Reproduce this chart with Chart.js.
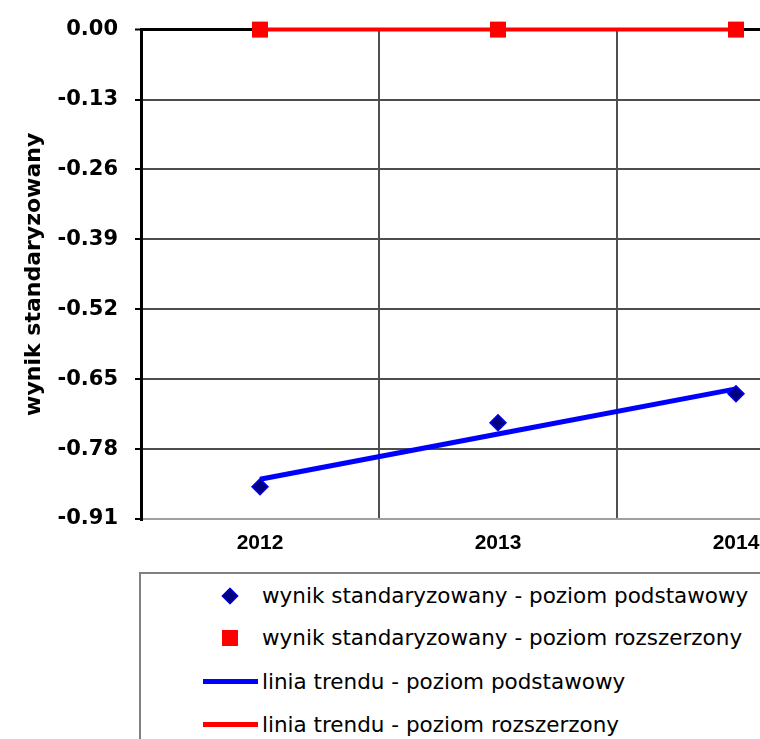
<!DOCTYPE html>
<html>
<head>
<meta charset="utf-8">
<script src="https://cdn.jsdelivr.net/npm/chart.js@4.4.1/dist/chart.umd.min.js"></script>
<style>
  html, body { margin: 0; padding: 0; background: #fff; overflow: hidden; width: 760px; height: 739px; }
  #wykres { position: absolute; left: 0; top: 0; }
  #legenda { position: absolute; left: 139px; top: 572px; width: 700px; height: 200px; border: 2px solid #808080; box-sizing: border-box; font-family: 'DejaVu Sans'; font-size: 21.5px; color: #000; }
  #legenda span { position: absolute; left: 121px; line-height: 26px; white-space: nowrap; }
  .romb { position: absolute; left: 83px; top: 16px; width: 10px; height: 10px; background: #000080; border: 1px solid #0000ff; transform: rotate(45deg); }
  .kwadrat { position: absolute; left: 81px; top: 56px; width: 16px; height: 16px; background: #ff0000; }
  .linia { position: absolute; left: 62px; width: 55px; height: 5px; }
</style>
</head>
<body>
<canvas id="wykres" width="870" height="560"></canvas>
<div id="legenda">
  <div class="romb"></div>
  <span style="top: 9px">wynik standaryzowany - poziom podstawowy</span>
  <div class="kwadrat"></div>
  <span style="top: 51px">wynik standaryzowany - poziom rozszerzony</span>
  <div class="linia" style="top: 105px; background: #0000ff"></div>
  <span style="top: 95px">linia trendu - poziom podstawowy</span>
  <div class="linia" style="top: 148px; background: #ff0000"></div>
  <span style="top: 138px">linia trendu - poziom rozszerzony</span>
</div>
<script>
const lata = ['2012', '2013', '2014'];
const wynikPodstawowy = [-0.850, -0.731, -0.677];
const wynikRozszerzony = [0, 0, 0];
const trendPodstawowy = [-0.836, -0.752, -0.668];
const trendRozszerzony = [0, 0, 0];
const podzialkaY = [0, -0.13, -0.26, -0.39, -0.52, -0.65, -0.78, -0.91];

const ctx = document.getElementById('wykres').getContext('2d');

new Chart(ctx, {
  type: 'line',
  data: {
    labels: lata,
    datasets: [
      {
        label: 'wynik standaryzowany - poziom podstawowy',
        data: wynikPodstawowy,
        showLine: false,
        pointStyle: 'rectRot',
        pointRadius: 8,
        pointBackgroundColor: '#000080',
        pointBorderColor: '#0000ff',
        pointBorderWidth: 1.5,
        clip: false,
        order: 1
      },
      {
        label: 'wynik standaryzowany - poziom rozszerzony',
        data: wynikRozszerzony,
        showLine: false,
        pointStyle: 'rect',
        pointRadius: 11.3,
        pointBackgroundColor: '#ff0000',
        pointBorderWidth: 0,
        clip: false,
        order: 0
      },
      {
        label: 'linia trendu - poziom podstawowy',
        data: trendPodstawowy,
        borderColor: '#0000ff',
        borderWidth: 5,
        pointRadius: 0,
        clip: false,
        order: 2
      },
      {
        label: 'linia trendu - poziom rozszerzony',
        data: trendRozszerzony,
        borderColor: '#ff0000',
        borderWidth: 4,
        pointRadius: 0,
        clip: false,
        order: 3
      }
    ]
  },
  options: {
    responsive: false,
    animation: false,
    layout: { padding: { top: 28, right: 15, left: 0, bottom: 0 } },
    plugins: {
      legend: { display: false },
      tooltip: { enabled: false }
    },
    scales: {
      x: {
        offset: true,
        grid: { offset: true, color: '#505050', lineWidth: 2, drawTicks: false },
        border: { display: false },
        ticks: {
          color: '#000',
          font: { family: 'Liberation Sans', weight: 'bold', size: 21 },
          padding: 12
        },
        afterFit: (s) => { s.height = 41; }
      },
      y: {
        min: -0.91,
        max: 0,
        afterBuildTicks: (s) => { s.ticks = podzialkaY.map(v => ({ value: v })); },
        ticks: {
          color: '#000',
          padding: 17,
          font: { family: 'DejaVu Sans', weight: 'bold', size: 21 },
          callback: (v) => Number(v).toFixed(2)
        },
        grid: {
          color: (c) => c.tick.value === 0 ? '#000' : (c.tick.value === -0.91 ? '#a0a0a0' : '#4d4d4d'),
          lineWidth: (c) => c.tick.value === 0 ? 3 : 2,
          tickColor: '#000',
          tickLength: 6,
          tickWidth: 2
        },
        border: { color: '#000', width: 3 },
        title: {
          display: true,
          text: 'wynik standaryzowany',
          color: '#000',
          font: { family: 'DejaVu Sans', weight: 'bold', size: 22 },
          padding: { top: 21, bottom: 0 }
        },
        afterFit: (s) => { s.width = 141; }
      }
    }
  }
});
</script>
</body>
</html>
